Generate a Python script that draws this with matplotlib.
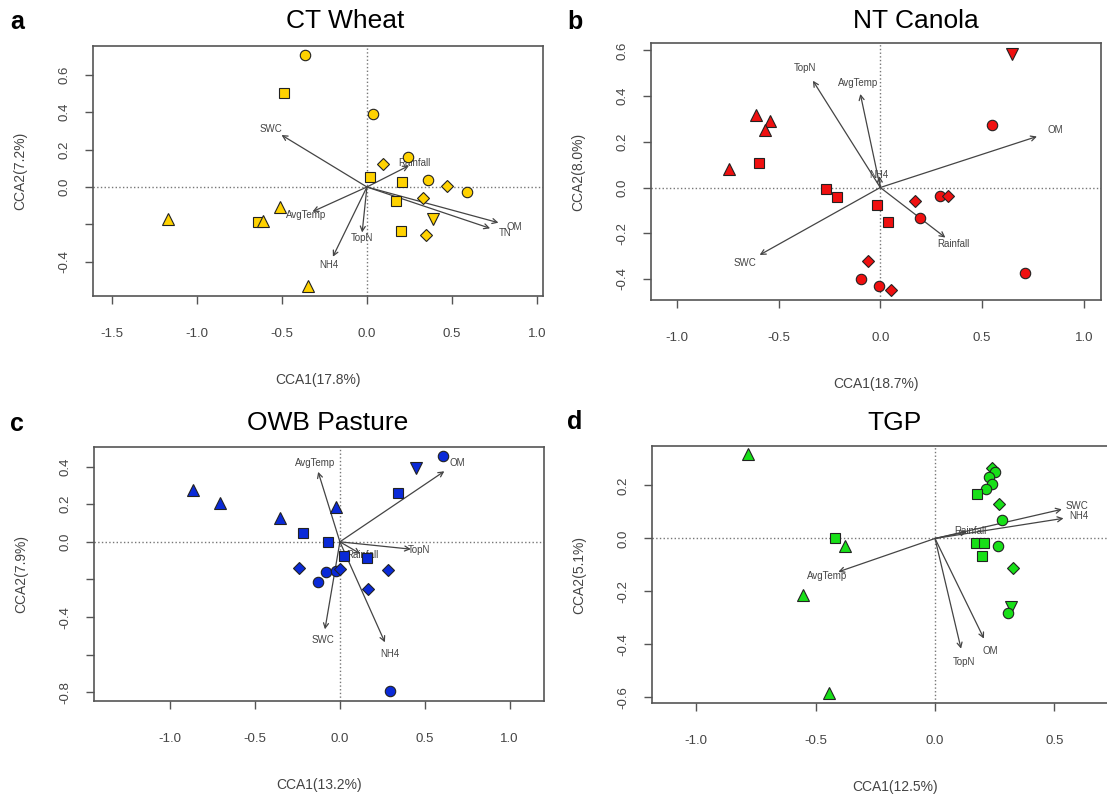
import matplotlib
matplotlib.use('Agg')
import matplotlib.pyplot as plt
import numpy as np

plt.rcParams['font.family'] = ['Liberation Sans', 'DejaVu Sans']

# ---- panel a : CT Wheat ----
a_x = [-0.365, -0.49, 0.037, 0.243, 0.092, 0.02, 0.204, 0.361, 0.469, 0.586, 0.169, 0.327, 0.39, 0.202, 0.345, -0.512, -0.345, -1.168, -0.64, -0.61]
a_y = [0.706, 0.50, 0.389, 0.162, 0.123, 0.052, 0.028, 0.037, 0.007, -0.025, -0.073, -0.057, -0.171, -0.235, -0.257, -0.105, -0.528, -0.171, -0.189, -0.18]
a_m = ['o', 's', 'o', 'o', 'D', 's', 's', 'o', 'D', 'o', 's', 'D', 'v', 's', 'D', '^', '^', '^', 's', '^']
a_env = ['SWC', 'Rainfall', 'OM', 'TN', 'AvgTemp', 'TopN', 'NH4']
a_ex = [-0.502, 0.247, 0.773, 0.724, -0.32, -0.028, -0.2]
a_ey = [0.278, 0.114, -0.191, -0.221, -0.132, -0.243, -0.373]

# ---- panel b : NT Canola ----
b_x = [-0.611, -0.541, -0.565, -0.746, -0.595, -0.265, -0.213, -0.016, 0.038, 0.169, 0.292, 0.333, 0.197, -0.062, -0.093, -0.008, 0.054, 0.549, 0.71, 0.647]
b_y = [0.318, 0.289, 0.25, 0.08, 0.107, -0.007, -0.042, -0.076, -0.152, -0.061, -0.036, -0.036, -0.134, -0.321, -0.401, -0.429, -0.448, 0.275, -0.372, 0.584]
b_m = ['^', '^', '^', '^', 's', 's', 's', 's', 's', 'D', 'o', 'D', 'o', 'D', 'o', 'o', 'D', 'o', 'o', 'v']
b_env = ['TopN', 'AvgTemp', 'NH4', 'OM', 'Rainfall', 'SWC']
b_ex = [-0.331, -0.098, -0.005, 0.77, 0.32, -0.593]
b_ey = [0.467, 0.409, 0.05, 0.223, -0.219, -0.295]

# ---- panel c : OWB Pasture ----
c_x = [-0.864, -0.707, -0.354, -0.02, 0.448, 0.609, 0.344, -0.22, -0.072, 0.025, 0.157, -0.242, -0.083, -0.024, 0.0, -0.128, 0.283, 0.167, 0.295]
c_y = [0.275, 0.207, 0.124, 0.183, 0.39, 0.455, 0.257, 0.045, -0.003, -0.074, -0.085, -0.141, -0.163, -0.154, -0.145, -0.216, -0.15, -0.252, -0.791]
c_m = ['^', '^', '^', '^', 'v', 'o', 's', 's', 's', 's', 's', 'D', 'o', 'o', 'D', 'o', 'D', 'D', 'o']
c_env = ['AvgTemp', 'OM', 'TopN', 'Rainfall', 'SWC', 'NH4']
c_ex = [-0.128, 0.615, 0.418, 0.12, -0.088, 0.265]
c_ey = [0.372, 0.375, -0.039, -0.063, -0.465, -0.534]

# ---- panel d : TGP ----
d_x = [-0.785, -0.419, -0.377, -0.552, -0.443, 0.24, 0.251, 0.228, 0.24, 0.214, 0.177, 0.27, 0.279, 0.171, 0.207, 0.263, 0.196, 0.328, 0.317, 0.305]
d_y = [0.319, 0.0, -0.028, -0.212, -0.582, 0.265, 0.252, 0.233, 0.204, 0.186, 0.166, 0.13, 0.069, -0.016, -0.016, -0.028, -0.067, -0.113, -0.258, -0.283]
d_m = ['^', 's', '^', '^', '^', 'D', 'o', 'o', 'o', 'o', 's', 'D', 'o', 's', 's', 'o', 's', 'D', 'v', 'o']
d_env = ['SWC', 'NH4', 'Rainfall', 'AvgTemp', 'TopN', 'OM']
d_ex = [0.531, 0.538, 0.133, -0.405, 0.109, 0.205]
d_ey = [0.11, 0.076, 0.025, -0.126, -0.416, -0.378]

W, H = 1107, 801
GREY = '#555555'
SIZES = {'o': 7.5, 's': 6.5, 'D': 6.0, '^': 8.5, 'v': 8.5}


def draw_panel(fig, box, xs, ys, ms, color, env, ex, ey, xlim, ylim,
               xticks, yticks, yticklabels, xlab, ylab):
    l, t, r, b = box
    ax = fig.add_axes([l / W, 1 - b / H, (r - l) / W, (b - t) / H])
    ax.set_xlim(xlim)
    ax.set_ylim(ylim)
    ax.axhline(0, color='#777777', ls=':', lw=1, zorder=1)
    ax.axvline(0, color='#777777', ls=':', lw=1, zorder=1)
    # environmental arrows
    for name, x, y in zip(env, ex, ey):
        ax.annotate('', xy=(x, y), xytext=(0, 0),
                    arrowprops=dict(arrowstyle='->,head_length=0.35,head_width=0.18',
                                    color='#444444', lw=0.9, shrinkA=0, shrinkB=0),
                    zorder=2)
        ax.text(x * 1.12, y * 1.12, name, fontsize=7, color='#444444',
                ha='center', va='center', zorder=3)
    # site scores
    for x, y, m in zip(xs, ys, ms):
        ax.plot(x, y, marker=m, ms=SIZES[m], mfc=color, mec='#222222', mew=0.8,
                ls='none', zorder=4)
    for s in ax.spines.values():
        s.set_color(GREY)
        s.set_linewidth(1.2)
    ax.set_xticks(xticks)
    ax.set_xticklabels(['%.1f' % v for v in xticks])
    ax.set_yticks(yticks)
    ax.set_yticklabels(yticklabels, rotation=90, va='center')
    ax.tick_params(axis='x', direction='out', length=6, width=1, color=GREY,
                   labelcolor='#444444', labelsize=9.5, pad=17)
    ax.tick_params(axis='y', direction='out', length=6, width=1, color=GREY,
                   labelcolor='#444444', labelsize=9.5, pad=10)
    ax.set_xlabel(xlab, fontsize=10, color='#444444')
    ax.set_ylabel(ylab, fontsize=10, color='#444444')
    ax.xaxis.set_label_coords(0.5, -77.0 / (b - t))
    ax.yaxis.set_label_coords(-66.0 / (r - l), 0.5)
    return ax


fig = plt.figure(figsize=(W / 100, H / 100), dpi=100)

draw_panel(fig, (93, 46, 543, 296), a_x, a_y, a_m, '#FFD200', a_env, a_ex, a_ey,
           (-1.61, 1.035), (-0.583, 0.754),
           [-1.5, -1.0, -0.5, 0.0, 0.5, 1.0], [0.6, 0.4, 0.2, 0.0, -0.2, -0.4],
           ['0.6', '0.4', '0.2', '0.0', '', '-0.4'], 'CCA1(17.8%)', 'CCA2(7.2%)')

draw_panel(fig, (651, 43, 1101, 300), b_x, b_y, b_m, '#F01010', b_env, b_ex, b_ey,
           (-1.127, 1.085), (-0.492, 0.632),
           [-1.0, -0.5, 0.0, 0.5, 1.0], [0.6, 0.4, 0.2, 0.0, -0.2, -0.4],
           ['0.6', '0.4', '0.2', '0.0', '-0.2', '-0.4'], 'CCA1(18.7%)', 'CCA2(8.0%)')

draw_panel(fig, (94, 447, 544, 701), c_x, c_y, c_m, '#0A2AD8', c_env, c_ex, c_ey,
           (-1.448, 1.202), (-0.846, 0.504),
           [-1.0, -0.5, 0.0, 0.5, 1.0], [0.4, 0.2, 0.0, -0.2, -0.4, -0.6, -0.8],
           ['0.4', '0.2', '0.0', '', '-0.4', '', '-0.8'], 'CCA1(13.2%)', 'CCA2(7.9%)')

draw_panel(fig, (652, 446, 1138, 703), d_x, d_y, d_m, '#18E018', d_env, d_ex, d_ey,
           (-1.185, 0.85), (-0.621, 0.349),
           [-1.0, -0.5, 0.0, 0.5], [0.2, 0.0, -0.2, -0.4, -0.6],
           ['0.2', '0.0', '-0.2', '-0.4', '-0.6'], 'CCA1(12.5%)', 'CCA2(5.1%)')

# titles and panel letters
titles = ['CT Wheat', 'NT Canola', 'OWB Pasture', 'TGP']
title_pos = [(345, 21), (916, 21), (328, 423), (895, 423)]
for txt, (x, y) in zip(titles, title_pos):
    fig.text(x / W, 1 - y / H, txt, fontsize=19, ha='center', va='center')
letters = ['a', 'b', 'c', 'd']
letter_pos = [(10, 22), (567, 22), (10, 424), (567, 422)]
for txt, (x, y) in zip(letters, letter_pos):
    fig.text(x / W, 1 - y / H, txt, fontsize=18, fontweight='bold', ha='left', va='center')

fig.savefig('out.png', dpi=100)
